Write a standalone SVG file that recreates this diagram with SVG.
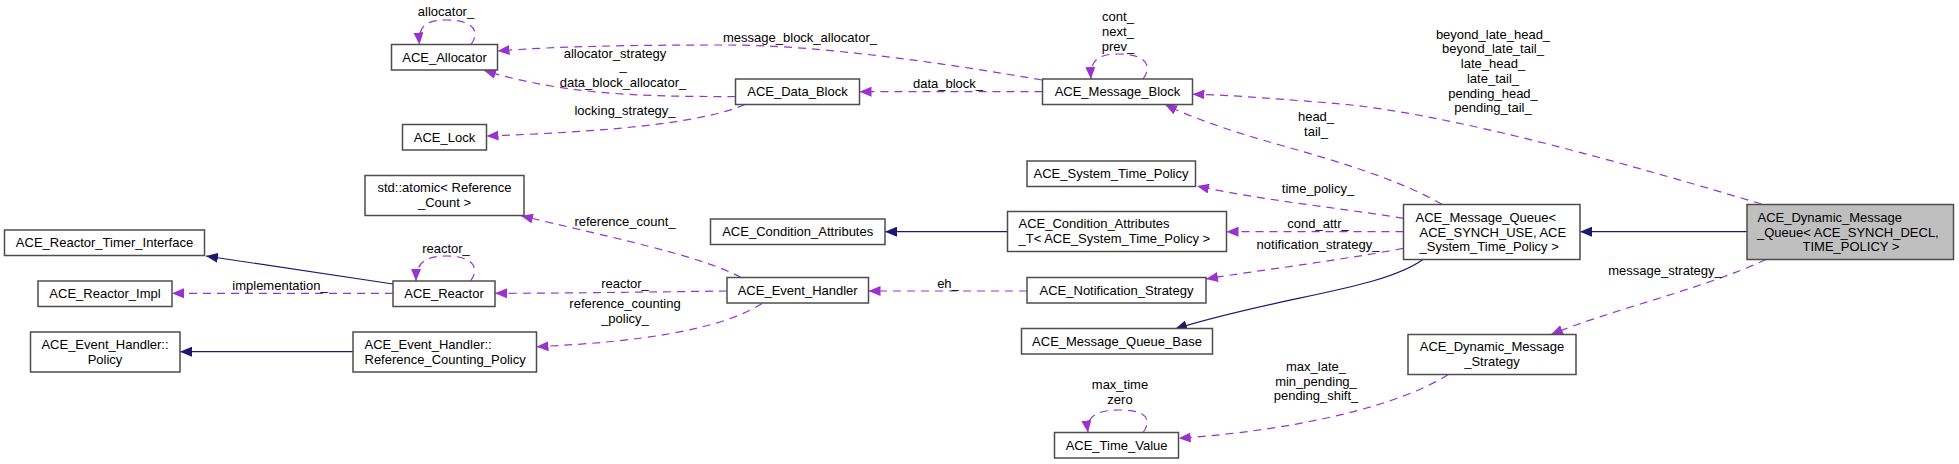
<svg xmlns="http://www.w3.org/2000/svg" width="1959" height="464" viewBox="0 0 1959 464">
<style>
  text { font-family: "Liberation Sans", Arial, sans-serif; font-size: 13px; fill: #000; }
  .c { text-anchor: middle; }
  .box { fill: #fff; stroke: #4d4d4d; stroke-width: 1.5; }
  .cur { fill: #bfbfbf; stroke: #4d4d4d; stroke-width: 1.5; }
  .use { fill: none; stroke: #9a32cd; stroke-width: 1.2; stroke-dasharray: 8,6; marker-end: url(#ap); }
  .inh { fill: none; stroke: #191970; stroke-width: 1.2; marker-end: url(#an); }
</style>
<defs>
  <marker id="ap" viewBox="0 0 12 10" refX="12" refY="5" markerUnits="userSpaceOnUse" markerWidth="12" markerHeight="10" orient="auto">
    <path d="M0,0 L12,5 L0,10 z" fill="#9a32cd"/>
  </marker>
  <marker id="an" viewBox="0 0 12 10" refX="12" refY="5" markerUnits="userSpaceOnUse" markerWidth="12" markerHeight="10" orient="auto">
    <path d="M0,0 L12,5 L0,10 z" fill="#191970"/>
  </marker>
</defs>
<rect width="1959" height="464" fill="#fff"/>

<g id="connectors">
  <path class="use" d="M471,44.5 C480,32 475,20 446,20 C425,20 418,27 419.5,44.5"/>
  <path class="use" d="M1042,80 C950,64 820,45 728,45 C640,45 560,46 497.5,51"/>
  <path class="use" d="M735.5,96.5 C630,97 560,93 484,70.5"/>
  <path class="use" d="M745,104.5 C700,124 600,132 486.5,136"/>
  <path class="use" d="M1042.5,91.7 L859.5,91.7"/>
  <path class="use" d="M1143,79 C1152,67 1148,54 1118,54 C1096,54 1090,62 1091,79"/>
  <path class="use" d="M1761.5,204 C1640,168 1450,112 1330,103 C1260,97.5 1220,94.5 1192.5,94.3"/>
  <path class="use" d="M1442,204.3 C1400,180 1340,162 1280,145 C1230,131 1190,117 1165,104.5"/>
  <path class="use" d="M470.5,281 C479,270 476,256 446,256 C424,256 416,264 416,281"/>
  <path class="inh" d="M393,284 L206,256"/>
  <path class="use" d="M393,293.3 L172,293.3"/>
  <path class="use" d="M727,291 C650,292 560,293.3 495,293.3"/>
  <path class="use" d="M741,277.5 C700,255 600,235 521,215.7"/>
  <path class="use" d="M762,303.5 C720,330 640,342 536.5,346.7"/>
  <path class="inh" d="M353,351.7 L180,351.7"/>
  <path class="inh" d="M1007.5,231.7 L885,231.7"/>
  <path class="use" d="M1027,291 L868.5,291"/>
  <path class="use" d="M1403.5,218.3 C1340,208 1260,200 1197,186"/>
  <path class="use" d="M1403.5,231.7 L1226.5,231.7"/>
  <path class="use" d="M1403.5,248.3 C1330,262 1260,270 1206,279"/>
  <path class="inh" d="M1423,259.5 C1380,290 1280,296 1175,329"/>
  <path class="inh" d="M1747,231.7 L1580,231.7"/>
  <path class="use" d="M1766,259.5 C1700,290 1610,310 1551,334.5"/>
  <path class="use" d="M1143,432.5 C1152,421 1148,410 1120,410 C1094,410 1086,418 1088,432.5"/>
  <path class="use" d="M1448,374.7 C1400,405 1300,430 1178.7,438.3"/>
  <g id="edge-labels">
    <text class="c" x="446" y="16">allocator_</text>
    <text class="c" x="800" y="41.5">message_block_allocator_</text>
    <text class="c" x="615" y="57.5">allocator_strategy</text>
    <text class="c" x="623" y="70">_</text>
    <text class="c" x="623" y="86.5">data_block_allocator_</text>
    <text class="c" x="625" y="115">locking_strategy_</text>
    <text class="c" x="948" y="88">data_block_</text>
    <text class="c" x="1118" y="21">cont_</text>
    <text class="c" x="1118" y="36">next_</text>
    <text class="c" x="1118" y="51">prev_</text>
    <text class="c" x="1493" y="38.5">beyond_late_head_</text>
    <text class="c" x="1493" y="53.25">beyond_late_tail_</text>
    <text class="c" x="1493" y="68">late_head_</text>
    <text class="c" x="1493" y="82.75">late_tail_</text>
    <text class="c" x="1493" y="97.5">pending_head_</text>
    <text class="c" x="1493" y="112.25">pending_tail_</text>
    <text class="c" x="1316" y="121">head_</text>
    <text class="c" x="1316" y="136">tail_</text>
    <text class="c" x="446" y="252.5">reactor_</text>
    <text class="c" x="280" y="289.5">implementation_</text>
    <text class="c" x="625" y="226">reference_count_</text>
    <text class="c" x="625" y="287.5">reactor_</text>
    <text class="c" x="625" y="308">reference_counting</text>
    <text class="c" x="625" y="322.5">_policy_</text>
    <text class="c" x="948" y="287.5">eh_</text>
    <text class="c" x="1318" y="192.5">time_policy_</text>
    <text class="c" x="1318" y="228">cond_attr_</text>
    <text class="c" x="1318" y="248.5">notification_strategy_</text>
    <text class="c" x="1665" y="275">message_strategy_</text>
    <text class="c" x="1120" y="389">max_time</text>
    <text class="c" x="1120" y="404">zero</text>
    <text class="c" x="1316" y="371">max_late_</text>
    <text class="c" x="1316" y="385.5">min_pending_</text>
    <text class="c" x="1316" y="400">pending_shift_</text>
  </g>
</g>

<g id="node-allocator"><rect class="box" x="391.5" y="44.5" width="106" height="25.5"/><text class="c" x="444.5" y="61.5">ACE_Allocator</text></g>
<g id="node-lock"><rect class="box" x="402.5" y="124.5" width="84" height="25.5"/><text class="c" x="444.5" y="141.5">ACE_Lock</text></g>
<g id="node-data-block"><rect class="box" x="735.5" y="79" width="124" height="25.5"/><text class="c" x="797.5" y="96">ACE_Data_Block</text></g>
<g id="node-message-block"><rect class="box" x="1042.5" y="79" width="150" height="25.5"/><text class="c" x="1117.5" y="96">ACE_Message_Block</text></g>
<g id="node-atomic"><rect class="box" x="365" y="175.5" width="159" height="40"/><text class="c" x="444.5" y="192">std::atomic&lt; Reference</text><text class="c" x="444.5" y="207">_Count &gt;</text></g>
<g id="node-timer-interface"><rect class="box" x="4.5" y="230" width="200" height="25.5"/><text class="c" x="104.5" y="247">ACE_Reactor_Timer_Interface</text></g>
<g id="node-reactor-impl"><rect class="box" x="38" y="281" width="134" height="25.5"/><text class="c" x="105" y="298">ACE_Reactor_Impl</text></g>
<g id="node-reactor"><rect class="box" x="393" y="281" width="102" height="25.5"/><text class="c" x="444" y="298">ACE_Reactor</text></g>
<g id="node-policy"><rect class="box" x="30.5" y="332" width="149.5" height="40"/><text class="c" x="105" y="348.5">ACE_Event_Handler::</text><text class="c" x="105" y="363.5">Policy</text></g>
<g id="node-ref-counting-policy"><rect class="box" x="353" y="332" width="183.5" height="40"/><text x="364.5" y="348.5">ACE_Event_Handler::</text><text x="364.5" y="363.5">Reference_Counting_Policy</text></g>
<g id="node-condition-attributes"><rect class="box" x="710.5" y="219" width="174.5" height="25.5"/><text class="c" x="797.7" y="236">ACE_Condition_Attributes</text></g>
<g id="node-event-handler"><rect class="box" x="727" y="277.5" width="141.5" height="25.5"/><text class="c" x="797.7" y="294.5">ACE_Event_Handler</text></g>
<g id="node-system-time-policy"><rect class="box" x="1027" y="161" width="168.5" height="25.5"/><text class="c" x="1111" y="178">ACE_System_Time_Policy</text></g>
<g id="node-condition-attributes-t"><rect class="box" x="1007.5" y="211.5" width="219" height="40"/><text x="1018.5" y="228">ACE_Condition_Attributes</text><text x="1018.5" y="243">_T&lt; ACE_System_Time_Policy &gt;</text></g>
<g id="node-notification-strategy"><rect class="box" x="1027" y="277.5" width="179" height="25.5"/><text class="c" x="1116.5" y="294.5">ACE_Notification_Strategy</text></g>
<g id="node-message-queue-base"><rect class="box" x="1021.5" y="328.5" width="191" height="25.5"/><text class="c" x="1117" y="345.5">ACE_Message_Queue_Base</text></g>
<g id="node-time-value"><rect class="box" x="1054.5" y="432.5" width="124" height="25.5"/><text class="c" x="1116.6" y="449.5">ACE_Time_Value</text></g>
<g id="node-message-queue"><rect class="box" x="1403.5" y="204.5" width="176.5" height="55"/><text x="1415.5" y="222">ACE_Message_Queue&lt;</text><text x="1419.5" y="236.5">ACE_SYNCH_USE, ACE</text><text x="1419.5" y="251">_System_Time_Policy &gt;</text></g>
<g id="node-dynamic-message-queue"><rect class="cur" x="1747" y="204.5" width="206.5" height="55"/><text x="1757.5" y="222">ACE_Dynamic_Message</text><text x="1757" y="236.5">_Queue&lt; ACE_SYNCH_DECL,</text><text class="c" x="1851" y="251">TIME_POLICY &gt;</text></g>
<g id="node-dynamic-message-strategy"><rect class="box" x="1408" y="334.5" width="168" height="40"/><text class="c" x="1492" y="351">ACE_Dynamic_Message</text><text class="c" x="1492" y="366">_Strategy</text></g>
</svg>
